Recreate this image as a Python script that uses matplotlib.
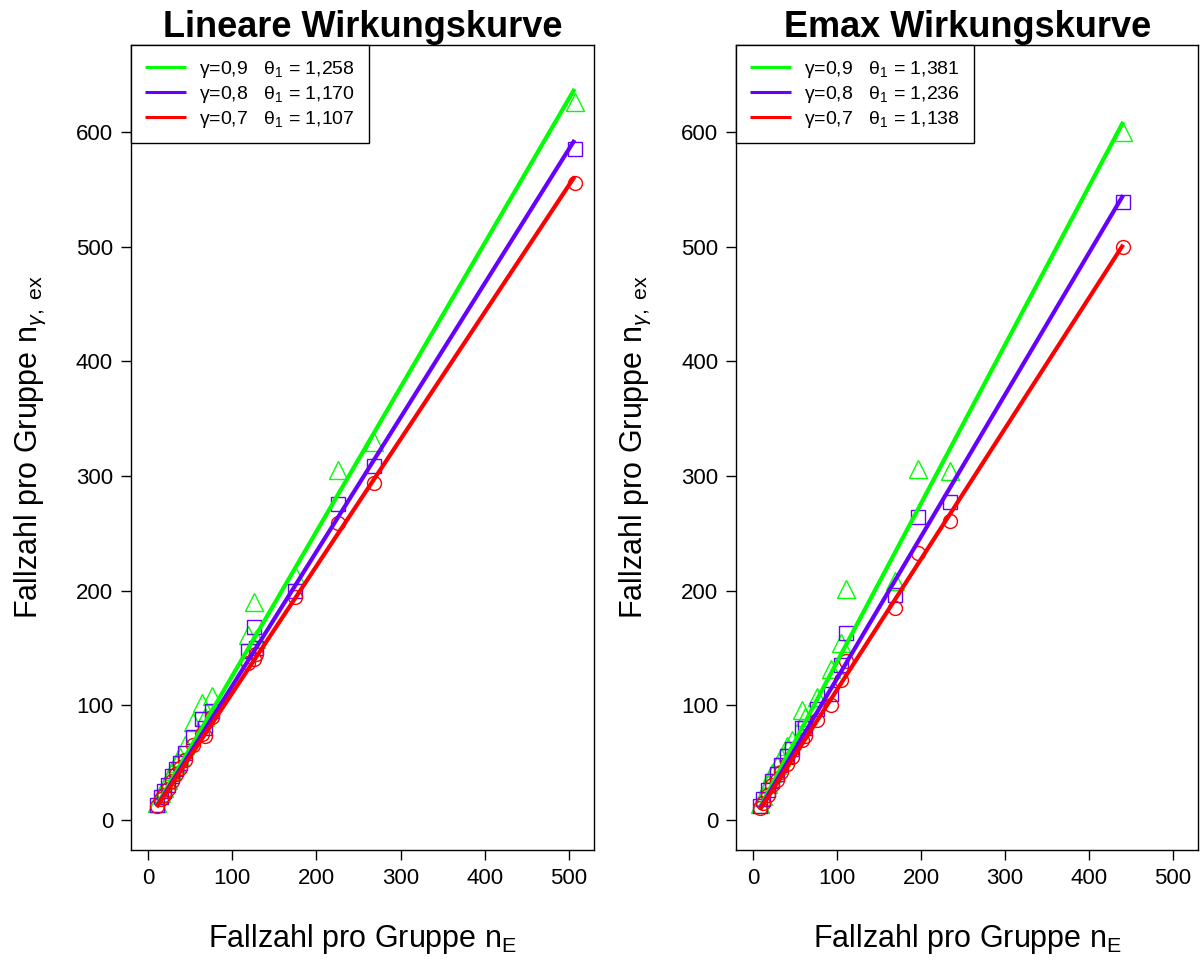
import matplotlib
matplotlib.use("Agg")
import matplotlib.pyplot as plt
import numpy as np

plt.rcParams["font.family"] = ["Liberation Sans", "DejaVu Sans"]
plt.rcParams["mathtext.fontset"] = "custom"
plt.rcParams["mathtext.rm"] = "Liberation Sans"
plt.rcParams["mathtext.it"] = "Liberation Sans:italic"

# Lineare Wirkungskurve
lin_x = [10, 15, 19, 23, 28, 33, 38, 44, 53, 64, 68, 76, 119, 126, 128, 175, 226, 268, 507]
lin_g09 = [15, 23, 28, 35, 43, 50, 55, 65, 85, 102, 90, 108, 161, 190, 158, 214, 305, 330, 626]
lin_g08 = [13, 20, 25, 30, 38, 44, 50, 58, 72, 88, 80, 95, 147, 168, 150, 200, 276, 309, 585]
lin_g07 = [12, 18, 22, 27, 34, 40, 45, 52, 65, 75, 73, 90, 137, 140, 145, 194, 259, 294, 556]
lin_theta = [1.258, 1.170, 1.107]

# Emax Wirkungskurve
emax_x = [8, 12, 17, 22, 28, 33, 40, 46, 58, 62, 76, 92, 104, 111, 169, 196, 234, 441]
emax_g09 = [14, 21, 31, 41, 48, 55, 64, 70, 96, 90, 107, 132, 154, 201, 208, 306, 304, 600]
emax_g08 = [12, 18, 26, 34, 40, 48, 56, 62, 80, 80, 97, 110, 135, 163, 196, 264, 277, 539]
emax_g07 = [10, 15, 22, 30, 35, 42, 49, 55, 70, 73, 87, 100, 122, 139, 185, 233, 261, 500]
emax_theta = [1.381, 1.236, 1.138]

gammas = ["0,9", "0,8", "0,7"]
colors = ["#00FF00", "#6600FF", "#FF0000"]
markers = ["^", "s", "o"]
msizes = [13, 10, 10]


def draw_panel(ax, x, ys, thetas, title):
    x = np.array(x)
    for y, col, m, ms in zip(ys, colors, markers, msizes):
        ax.plot(x, y, linestyle="none", marker=m, markersize=ms,
                markerfacecolor="none", markeredgecolor=col, markeredgewidth=1)
    handles = []
    for th, col, g in zip(thetas, colors, gammas):
        xs = np.array([x.min(), x.max()])
        (ln,) = ax.plot(xs, th * xs, color=col, lw=3, solid_capstyle="butt",
                        label="γ=" + g + "   θ$_1$ = " + f"{th:.3f}".replace(".", ","))
        handles.append(ln)
    ax.set_xlim(-20.4, 530.4)
    ax.set_ylim(-26, 676)
    ax.set_xticks(range(0, 501, 100))
    ax.set_yticks(range(0, 601, 100))
    ax.tick_params(direction="out", length=7, width=1, labelsize=16, pad=6)
    for s in ax.spines.values():
        s.set_linewidth(1)
    ax.set_title(title, fontsize=26, fontweight="bold", pad=5)
    ax.set_xlabel(r"Fallzahl pro Gruppe n$_\mathrm{E}$", fontsize=22, labelpad=24)
    ax.set_ylabel(r"Fallzahl pro Gruppe n$_{\gamma,\ \mathrm{ex}}$", fontsize=22, labelpad=20)
    leg = ax.legend(handles=handles, loc="upper left", borderaxespad=0, fontsize=14,
                    frameon=True, fancybox=False, edgecolor="black", framealpha=1,
                    handlelength=2.1, handletextpad=0.7, borderpad=0.7, labelspacing=0.2)
    leg.get_frame().set_linewidth(1)
    for h in leg.get_lines():
        h.set_linewidth(2.2)


fig = plt.figure(figsize=(12.03, 9.6), dpi=100)
ax1 = fig.add_axes([0.109, 0.115, 0.385, 0.838])
ax2 = fig.add_axes([0.612, 0.115, 0.384, 0.838])

draw_panel(ax1, lin_x, [lin_g09, lin_g08, lin_g07], lin_theta, "Lineare Wirkungskurve")
draw_panel(ax2, emax_x, [emax_g09, emax_g08, emax_g07], emax_theta, "Emax Wirkungskurve")

fig.savefig("out.png", dpi=100)
